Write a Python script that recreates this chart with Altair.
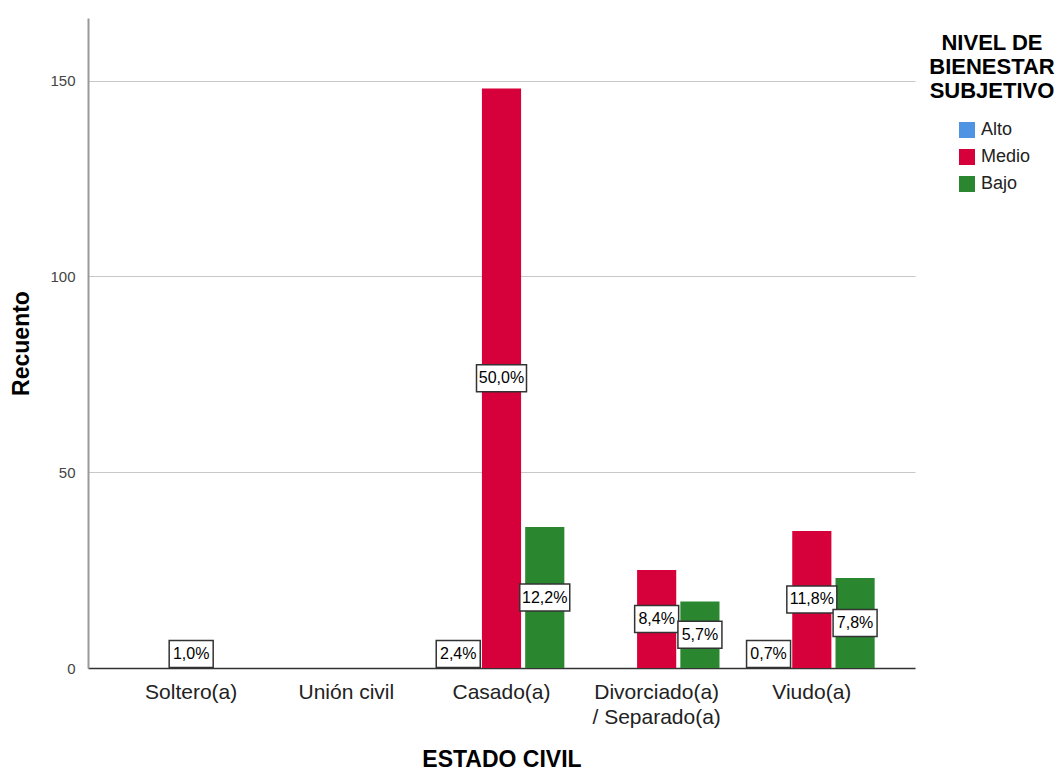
import altair as alt
import pandas as pd

categorias = ["Soltero(a)", "Unión civil", "Casado(a)", "Divorciado(a) / Separado(a)", "Viudo(a)"]
niveles = ["Alto", "Medio", "Bajo"]
alto = [0, 0, 7, 0, 2]
medio = [3, 0, 148, 25, 35]
bajo = [0, 0, 36, 17, 23]
alto_pct = ["", "", "2,4%", "", "0,7%"]
medio_pct = ["1,0%", "", "50,0%", "8,4%", "11,8%"]
bajo_pct = ["", "", "12,2%", "5,7%", "7,8%"]
colores = ["#4f94e3", "#d6003a", "#2a872f"]
y_ticks = [0, 50, 100, 150]

rows = []
for nivel, vals, pcts in zip(niveles, [alto, medio, bajo], [alto_pct, medio_pct, bajo_pct]):
    for c, v, p in zip(categorias, vals, pcts):
        rows.append({"estado": c, "nivel": nivel, "recuento": v, "pct": p})
df = pd.DataFrame(rows)

FONT = "Liberation Sans"

x_axis = alt.Axis(
    title="ESTADO CIVIL",
    titleFont=FONT, titleFontSize=23, titleFontWeight="bold", titleColor="#000",
    titleY=98, titleBaseline="alphabetic",
    labelFont=FONT, labelFontSize=21, labelColor="#222", labelAngle=0,
    labelPadding=13, labelLineHeight=25,
    labelExpr="split(replace(datum.label, ' / ', '|/ '), '|')",
    ticks=False, domainColor="#333", domainWidth=1.5,
)
y_axis = alt.Axis(
    title="Recuento", values=y_ticks,
    titleFont=FONT, titleFontSize=23, titleFontWeight="bold", titleColor="#000",
    titleAngle=-90, titleX=-67, titleY=325, titleAlign="center", titleBaseline="middle",
    labelFont=FONT, labelFontSize=15, labelColor="#444", labelPadding=13,
    ticks=False, grid=True, gridColor="#c8c8c8", gridWidth=1.2,
    domainColor="#999", domainWidth=2,
)

x_scale = alt.Scale(paddingInner=0.19, paddingOuter=0.26)
xo_enc = alt.XOffset("nivel:N", sort=niveles, scale=alt.Scale(domain=niveles, paddingInner=0.095))
y_scale = alt.Scale(domain=[0, 166], nice=False, zero=True)

base = alt.Chart(df)

bars = base.mark_bar().encode(
    x=alt.X("estado:N", sort=categorias, scale=x_scale, axis=x_axis),
    xOffset=xo_enc,
    y=alt.Y("recuento:Q", scale=y_scale, axis=y_axis, title="Recuento"),
    color=alt.Color(
        "nivel:N",
        sort=niveles,
        scale=alt.Scale(domain=niveles, range=colores),
        legend=alt.Legend(
            title=["NIVEL DE", "BIENESTAR", "SUBJETIVO"],
            orient="none", legendX=841, legendY=15,
            titleFont=FONT, titleFontSize=22, titleFontWeight="bold", titleColor="#000",
            titleAlign="center", titleAnchor="middle", titleLineHeight=24, titlePadding=18,
            symbolType="square", symbolSize=256, symbolStrokeWidth=0, symbolOpacity=1,
            labelFont=FONT, labelFontSize=18, labelColor="#222", labelOffset=5,
            rowPadding=9, symbolOffset=5,
        ),
    ),
)

lab = base.transform_filter("datum.pct != ''").transform_calculate(
    ylab="max(datum.recuento / 2, 3.6)",
    boxw="20 + 6 * length(datum.pct)",
).transform_calculate(
    boxpath="'M-1,' + (-27 / datum.boxw) + 'H1V' + (27 / datum.boxw) + 'H-1Z'",
    boxsize="datum.boxw * datum.boxw",
)

boxes = lab.mark_point(filled=True, fill="white", stroke="#333", strokeWidth=1.5, opacity=1).encode(
    x=alt.X("estado:N", sort=categorias, scale=x_scale, axis=x_axis),
    xOffset=xo_enc,
    y=alt.Y("ylab:Q", scale=y_scale, axis=y_axis, title="Recuento"),
    shape=alt.Shape("boxpath:N", scale=None),
    size=alt.Size("boxsize:Q", scale=None),
)

texts = lab.mark_text(font=FONT, fontSize=16, color="#000", baseline="middle", align="center").encode(
    x=alt.X("estado:N", sort=categorias, scale=x_scale, axis=x_axis),
    xOffset=xo_enc,
    y=alt.Y("ylab:Q", scale=y_scale, axis=y_axis, title="Recuento"),
    text="pct:N",
)

chart = alt.layer(bars, boxes, texts).properties(
    width=827, height=650,
    background="white",
    autosize=alt.AutoSizeParams(type="none"),
    padding={"left": 80, "top": 10, "right": 141, "bottom": 105},
).configure_view(strokeWidth=0, stroke=None)

chart.save("out.html", embed_options={"renderer": "svg", "actions": False})
